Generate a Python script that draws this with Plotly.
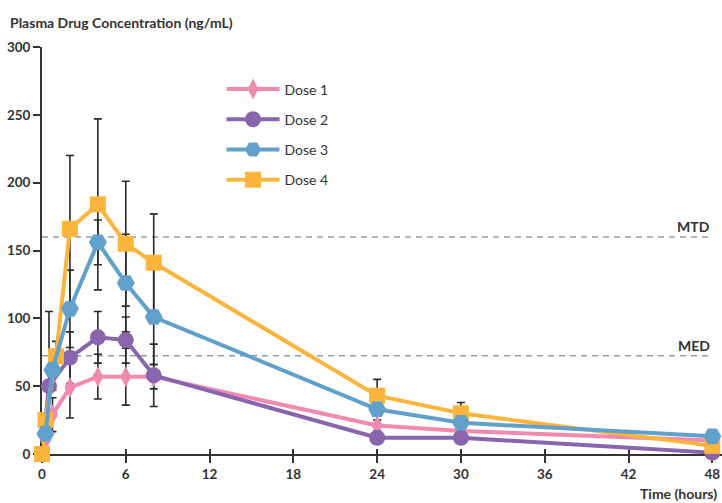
import plotly.graph_objects as go

# ---------------- data ----------------
X_TICKS = [0, 6, 12, 18, 24, 30, 36, 42, 48]
Y_TICKS = [0, 50, 100, 150, 200, 250, 300]

DOSE1_T = [0.25, 0.75, 2, 4, 6, 8, 24, 30, 48]
DOSE1_Y = [10, 29, 49, 57, 57, 57, 21, 17, 10]
DOSE1_ERR = [0, 12.5, 22.5, 16.5, 21, 9, 4, 3, 0]

DOSE2_T = [0, 0.5, 2, 4, 6, 8, 24, 30, 48]
DOSE2_Y = [0, 50, 71, 86, 84, 58, 12, 12, 1]
DOSE2_ERR_UP = [0, 55, 19, 19, 17, 23, 3, 3, 0]
DOSE2_ERR_DOWN = [0, 34, 19, 19, 17, 23, 3, 3, 0]

DOSE3_T = [0.25, 0.75, 2, 4, 6, 8, 24, 30, 48]
DOSE3_Y = [15, 62, 107, 156, 126, 101, 33, 23, 13]
DOSE3_ERR = [3, 15, 28.5, 16.5, 36, 35, 5, 4, 0]

DOSE4_T = [0, 0.25, 1, 2, 4, 6, 8, 24, 30, 48]
DOSE4_Y = [0, 25, 72, 166, 184, 155, 141, 43, 30, 6]
DOSE4_ERR = [0, 5, 11, 54, 63, 46, 36, 12, 8, 0]

MTD_LEVEL = 160
MED_LEVEL = 72.5

# ---------------- style ----------------
PINK = "#F08AB1"
PURPLE = "#8865AD"
BLUE = "#62A0CC"
ORANGE = "#FBB43C"
DARK = "#333333"
ERRC = "#2a2a2a"
DASH = "#8E9DA6"
FONT = "Lato"

def nz(vals):
    return [v if v else None for v in vals]

fig = go.Figure()

# error bars (drawn beneath all series)
for t, y, up, down in [
    (DOSE1_T, DOSE1_Y, DOSE1_ERR, DOSE1_ERR),
    (DOSE2_T, DOSE2_Y, DOSE2_ERR_UP, DOSE2_ERR_DOWN),
    (DOSE3_T, DOSE3_Y, DOSE3_ERR, DOSE3_ERR),
    (DOSE4_T, DOSE4_Y, DOSE4_ERR, DOSE4_ERR),
]:
    fig.add_trace(go.Scatter(
        x=t, y=y, mode="markers",
        marker=dict(size=1, opacity=0),
        error_y=dict(type="data", symmetric=False, array=nz(up), arrayminus=nz(down),
                     color=ERRC, thickness=1.6, width=4),
        showlegend=False, hoverinfo="skip", cliponaxis=False,
    ))

# Dose 1
fig.add_trace(go.Scatter(
    x=DOSE1_T, y=DOSE1_Y, name="Dose 1", mode="lines+markers",
    line=dict(color=PINK, width=4),
    marker=dict(symbol="diamond-tall", size=15, color=PINK),
    legendgroup="d1", legendrank=1, cliponaxis=False,
))
fig.add_trace(go.Scatter(
    x=DOSE1_T, y=DOSE1_Y, mode="markers",
    marker=dict(symbol="circle", size=10, color=PINK),
    legendgroup="d1", showlegend=False, hoverinfo="skip", cliponaxis=False,
))
# Dose 2
fig.add_trace(go.Scatter(
    x=DOSE2_T, y=DOSE2_Y, name="Dose 2", mode="lines+markers",
    line=dict(color=PURPLE, width=4),
    marker=dict(symbol="circle", size=16, color=PURPLE),
    legendgroup="d2", legendrank=2, cliponaxis=False,
))
# Dose 4
fig.add_trace(go.Scatter(
    x=DOSE4_T, y=DOSE4_Y, name="Dose 4", mode="lines+markers",
    line=dict(color=ORANGE, width=4),
    marker=dict(symbol="square", size=16, color=ORANGE),
    legendgroup="d4", legendrank=4, cliponaxis=False,
))
# Dose 3
fig.add_trace(go.Scatter(
    x=DOSE3_T, y=DOSE3_Y, name="Dose 3", mode="lines+markers",
    line=dict(color=BLUE, width=4),
    marker=dict(symbol="hexagon2", size=18, color=BLUE),
    legendgroup="d3", legendrank=3, cliponaxis=False,
))

# helper axis for the inward half of the crossing x ticks
fig.add_trace(go.Scatter(x=[], y=[], xaxis="x2", showlegend=False, hoverinfo="skip"))

# reference lines
for lvl, lab in [(MTD_LEVEL, "MTD"), (MED_LEVEL, "MED")]:
    fig.add_shape(type="line", xref="x", yref="y", x0=0, x1=48, y0=lvl, y1=lvl,
                  line=dict(color=DASH, width=1.5, dash="6px,5px"), layer="below")
    fig.add_annotation(x=48, y=lvl, xref="x", yref="y", text=lab, showarrow=False,
                       xanchor="right", yanchor="bottom", yshift=0,
                       font=dict(family=FONT, size=14, color=DARK, weight="bold"))

fig.add_annotation(x=-0.05, y=1.059, xref="paper", yref="paper",
                   text="Plasma Drug Concentration (ng/mL)", showarrow=False,
                   xanchor="left", yanchor="middle",
                   font=dict(family=FONT, size=14, color=DARK, weight="bold"))
fig.add_annotation(x=0.996, y=-0.098, xref="paper", yref="paper",
                   text="Time (hours)", showarrow=False,
                   xanchor="right", yanchor="middle",
                   font=dict(family=FONT, size=14, color=DARK, weight="bold"))

XMAX = 48 * 680 / 670.3
tickfont = dict(family=FONT, size=13.5, color=DARK, weight="bold")

fig.update_layout(
    width=722, height=503,
    margin=dict(l=42, r=0, t=47, b=49),
    paper_bgcolor="white", plot_bgcolor="white",
    font=dict(family=FONT, color=DARK),
    xaxis=dict(range=[0, XMAX], tickvals=X_TICKS, ticks="outside", ticklen=7,
               tickwidth=1.6, tickcolor=DARK, showline=True, linecolor=DARK,
               linewidth=1.8, showgrid=False, zeroline=False, tickfont=tickfont,
               layer="below traces", fixedrange=True),
    xaxis2=dict(range=[0, XMAX], overlaying="x", anchor="y", side="bottom",
                tickvals=X_TICKS, ticks="inside", ticklen=5, tickwidth=1.6,
                tickcolor=DARK, showticklabels=False, showline=False,
                showgrid=False, zeroline=False, layer="below traces"),
    yaxis=dict(range=[0, 300], tickvals=Y_TICKS, ticks="outside", ticklen=7,
               tickwidth=1.6, tickcolor=DARK, showline=True, linecolor=DARK,
               linewidth=1.8, showgrid=False, zeroline=False, tickfont=tickfont,
               layer="below traces", fixedrange=True),
    legend=dict(x=0.264, y=0.935, xanchor="left", yanchor="top",
                font=dict(family=FONT, size=14, color=DARK),
                bgcolor="rgba(0,0,0,0)", itemwidth=53, tracegroupgap=9,
                traceorder="grouped"),
    showlegend=True,
)

fig.write_html("out.html")
